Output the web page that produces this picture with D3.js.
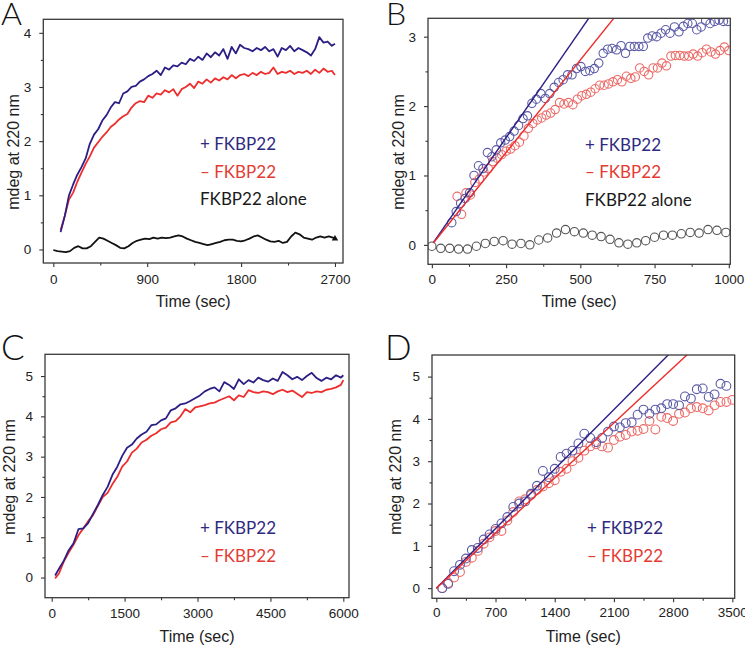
<!DOCTYPE html>
<html><head><meta charset="utf-8">
<script src="https://cdn.jsdelivr.net/npm/d3@7"></script>
<style>body{margin:0;background:#fff}svg{display:block}</style>
</head><body><svg id="c" width="745" height="647"></svg>
<script>
// ---------- DATA ----------
// Panel A (continuous traces)
const aTime = [70,110,150,190,230,270,310,350,390,430,470,510,550,590,630,670,710,750,790,830,870,910,950,990,1030,1070,1110,1150,1190,1230,1270,1310,1350,1390,1430,1470,1510,1550,1590,1630,1670,1710,1750,1790,1830,1870,1910,1950,1990,2030,2070,2110,2150,2190,2230,2270,2310,2350,2390,2430,2470,2510,2550,2590,2630,2670,2700];
const aPlus = [0.32,0.62,1.00,1.20,1.38,1.52,1.68,1.95,2.12,2.22,2.38,2.48,2.62,2.72,2.70,2.88,2.92,3.00,3.02,3.10,3.14,3.20,3.24,3.30,3.22,3.36,3.32,3.40,3.38,3.45,3.42,3.52,3.48,3.56,3.50,3.62,3.55,3.64,3.58,3.70,3.52,3.74,3.62,3.78,3.72,3.70,3.66,3.72,3.68,3.74,3.66,3.70,3.56,3.72,3.68,3.76,3.66,3.72,3.68,3.64,3.58,3.70,3.92,3.82,3.84,3.76,3.80];
const aMinus = [0.36,0.62,0.92,1.05,1.25,1.42,1.58,1.72,1.88,1.98,2.08,2.16,2.26,2.32,2.40,2.46,2.50,2.62,2.70,2.74,2.72,2.84,2.80,2.88,2.86,2.94,2.90,2.96,2.84,2.96,3.00,3.06,2.98,3.10,3.06,3.14,3.08,3.16,3.12,3.18,3.14,3.22,3.16,3.22,3.24,3.20,3.26,3.22,3.28,3.24,3.26,3.36,3.24,3.28,3.26,3.30,3.24,3.28,3.26,3.30,3.24,3.32,3.26,3.34,3.28,3.30,3.22];
const aAloneTime = [0,40,80,120,160,200,240,280,320,360,400,440,480,520,560,600,640,680,720,760,800,840,880,920,960,1000,1040,1080,1120,1160,1200,1240,1280,1320,1360,1400,1440,1480,1520,1560,1600,1640,1680,1720,1760,1800,1840,1880,1920,1960,2000,2040,2080,2120,2160,2200,2240,2280,2320,2360,2400,2440,2480,2520,2560,2600,2640,2680,2700];
const aAlone = [-0.01,-0.03,-0.04,-0.05,-0.03,0.03,0.06,0.02,0.02,0.06,0.14,0.22,0.20,0.16,0.12,0.08,0.03,0.02,0.06,0.12,0.16,0.18,0.20,0.19,0.22,0.20,0.22,0.21,0.22,0.24,0.26,0.24,0.20,0.17,0.14,0.12,0.10,0.08,0.10,0.12,0.14,0.17,0.18,0.18,0.16,0.15,0.17,0.20,0.24,0.26,0.22,0.18,0.15,0.14,0.16,0.12,0.14,0.24,0.31,0.28,0.22,0.20,0.18,0.22,0.24,0.22,0.24,0.22,0.20];

// Panel B (sampled points + initial-rate fits)
const bPlusTime = [67,82,97,112,127,142,157,172,187,202,217,232,247,262,277,292,307,322,337,352,367,382,397,412,427,442,457,472,487,502,517,532,547,562,577,592,607,622,637,652,667,682,697,712,727,742,757,772,787,802,817,832,847,862,877,892,907,922,937,952,967,982,997];
const bPlus = [0.32,0.48,0.60,0.67,0.75,1.00,1.14,1.10,1.33,1.27,1.37,1.47,1.51,1.56,1.64,1.72,1.82,1.86,2.04,2.10,2.18,2.11,2.18,2.27,2.34,2.38,2.45,2.45,2.54,2.57,2.50,2.51,2.54,2.62,2.76,2.82,2.83,2.81,2.87,2.76,2.86,2.86,2.86,2.86,2.98,3.01,3.00,3.05,3.10,3.05,3.14,3.07,3.15,3.19,3.19,3.10,3.14,3.23,3.19,3.22,3.24,3.22,3.22];
const bMinusTime = [85,100,115,130,145,160,175,190,205,220,235,250,265,280,295,310,325,340,355,370,385,400,415,430,445,460,475,490,505,520,535,550,565,580,595,610,625,640,655,670,685,700,715,730,745,760,775,790,805,820,835,850,865,880,895,910,925,940,955,970,985,1000];
const bMinus = [0.70,0.44,0.75,0.72,0.90,0.95,1.05,1.10,1.20,1.25,1.30,1.35,1.38,1.43,1.48,1.57,1.68,1.75,1.80,1.83,1.87,1.90,1.95,2.05,2.03,2.05,2.02,2.10,2.15,2.17,2.20,2.25,2.30,2.30,2.32,2.35,2.38,2.35,2.43,2.40,2.42,2.55,2.50,2.45,2.55,2.55,2.62,2.58,2.72,2.73,2.73,2.72,2.72,2.75,2.72,2.77,2.82,2.78,2.75,2.80,2.85,2.80];
const bAloneTime = [0,30,60,90,120,150,180,210,240,270,300,330,360,390,420,450,480,510,540,570,600,630,660,690,720,750,780,810,840,870,900,930,960,990];
const bAlone = [-0.02,-0.05,-0.05,-0.06,-0.06,-0.02,0.02,0.05,0.06,0.01,0.02,0.00,0.07,0.10,0.17,0.22,0.19,0.17,0.14,0.12,0.08,0.03,0.01,0.03,0.06,0.11,0.14,0.14,0.16,0.18,0.17,0.22,0.21,0.18];
const bSlopes = [0.00618, 0.00533]; // + FKBP22, - FKBP22 (mdeg per sec)

// Panel C (continuous traces)
const cTime = [70,150,250,350,450,550,650,750,850,950,1050,1150,1250,1350,1450,1550,1650,1750,1850,1950,2050,2150,2250,2350,2450,2550,2650,2750,2850,2950,3050,3150,3250,3350,3450,3550,3650,3750,3850,3950,4050,4150,4250,4350,4450,4550,4650,4750,4850,4950,5050,5150,5250,5350,5450,5550,5650,5750,5850,5950,6000];
const cPlus = [0.05,0.22,0.42,0.68,0.85,1.20,1.22,1.35,1.58,1.80,2.05,2.25,2.55,2.75,3.02,3.22,3.30,3.45,3.55,3.62,3.78,3.80,3.90,3.95,4.15,4.20,4.30,4.32,4.38,4.45,4.52,4.62,4.68,4.72,4.62,4.85,4.78,4.68,4.92,4.80,4.90,4.84,4.96,4.90,4.86,4.94,4.88,5.10,5.02,4.92,4.98,4.90,5.00,5.08,4.95,4.88,4.96,4.92,5.02,4.96,5.02];
const cMinus = [-0.02,0.10,0.40,0.62,0.82,1.05,1.22,1.40,1.55,1.78,2.00,2.10,2.32,2.50,2.75,2.88,3.10,3.20,3.35,3.42,3.52,3.58,3.68,3.72,3.85,3.88,4.00,4.18,4.10,4.22,4.25,4.28,4.32,4.34,4.40,4.45,4.50,4.40,4.52,4.48,4.65,4.60,4.58,4.62,4.60,4.55,4.62,4.66,4.60,4.64,4.56,4.48,4.60,4.58,4.62,4.60,4.66,4.68,4.72,4.78,4.90];

// Panel D (sampled points + initial-rate fits)
const dPlusTime = [70,140,210,280,350,420,490,560,630,700,770,840,910,980,1050,1120,1190,1260,1330,1400,1470,1540,1610,1680,1750,1820,1890,1960,2030,2100,2170,2240,2310,2380,2450,2520,2590,2660,2730,2800,2870,2940,3010,3080,3150,3220,3290,3360,3430];
const dPlus = [0.00,0.10,0.40,0.55,0.70,0.90,0.95,1.15,1.27,1.40,1.53,1.68,1.92,2.00,2.05,2.23,2.42,2.77,2.62,2.82,3.10,3.18,3.25,3.42,3.65,3.55,3.45,3.55,3.70,3.82,3.80,3.90,3.92,4.10,4.22,4.12,4.22,4.25,4.35,4.35,4.32,4.53,4.48,4.70,4.72,4.52,4.58,4.83,4.78];
const dMinusTime = [70,140,210,280,350,420,490,560,630,700,770,840,910,980,1050,1120,1190,1260,1330,1400,1470,1540,1610,1680,1750,1820,1890,1960,2030,2100,2170,2240,2310,2380,2450,2520,2590,2660,2730,2800,2870,2940,3010,3080,3150,3220,3290,3360,3430,3500];
const dMinus = [0.00,0.12,0.25,0.38,0.62,0.72,0.88,1.05,1.20,1.35,1.35,1.60,1.80,2.05,2.10,2.20,2.32,2.40,2.48,2.55,2.75,2.82,3.00,3.08,3.25,3.35,3.40,3.35,3.32,3.50,3.58,3.62,3.70,3.72,3.76,3.95,3.75,4.05,4.02,3.95,4.12,4.15,4.25,4.28,4.25,4.20,4.32,4.40,4.40,4.45];
const dSlopes = [0.00201, 0.00186];

// Tick labels
const aXTicks = [0,900,1800,2700], aYTicks = [0,1,2,3,4];
const bXTicks = [0,250,500,750,1000], bYTicks = [0,1,2,3];
const cXTicks = [0,1500,3000,4500,6000], cYTicks = [0,1,2,3,4,5];
const dXTicks = [0,700,1400,2100,2800,3500], dYTicks = [0,1,2,3,4,5];

const legendPlus = "+ FKBP22", legendMinus = "\u2013 FKBP22", legendAlone = "FKBP22 alone";

// ---------- STYLE ----------
const BLUE = "#2b1f86", RED = "#ee2d2d", BLACK = "#111";
const BLUE_PT = "#5b5aa6", RED_PT = "#ec6a66", GRAY_PT = "#555";
const BLUE_TXT = "#2f2a80", RED_TXT = "#e53b35";

const svg = d3.select("#c");
svg.append("rect").attr("width",745).attr("height",647).attr("fill","#fff");

function panel(p) {
  const x = d3.scaleLinear().domain(p.xd).range([p.left, p.right]);
  const y = d3.scaleLinear().domain(p.yd).range([p.bottom, p.top]);
  const g = svg.append("g");
  const clipId = "clip" + p.id;
  svg.append("clipPath").attr("id", clipId).append("rect")
    .attr("x", p.left).attr("y", p.top).attr("width", p.right - p.left).attr("height", p.bottom - p.top);

  const minorX = [], minorY = [];
  for (let i = 0; i < p.xt.length - 1; i++) minorX.push((p.xt[i] + p.xt[i+1]) / 2);
  for (let i = 0; i < p.yt.length - 1; i++) minorY.push((p.yt[i] + p.yt[i+1]) / 2);

  const styleAxis = s => {
    s.select(".domain").remove();
    s.selectAll("line").attr("stroke", "#333").attr("stroke-width", 1.1);
    s.selectAll("text").attr("font-family", "'Liberation Sans', Arial, sans-serif").attr("font-size", p.tickFont).attr("fill", "#222");
  };
  g.append("g").attr("transform", `translate(0,${p.bottom})`)
    .call(d3.axisBottom(x).tickValues(p.xt).tickSize(4).tickPadding(p.xpad).tickFormat(d3.format("d"))).call(styleAxis);
  g.append("g").attr("transform", `translate(0,${p.bottom})`)
    .call(d3.axisBottom(x).tickValues(minorX).tickSize(2.5).tickFormat("")).call(styleAxis);
  g.append("g").attr("transform", `translate(${p.left},0)`)
    .call(d3.axisLeft(y).tickValues(p.yt).tickSize(4).tickPadding(p.ypad).tickFormat(d3.format("d"))).call(styleAxis);
  g.append("g").attr("transform", `translate(${p.left},0)`)
    .call(d3.axisLeft(y).tickValues(minorY).tickSize(2.5).tickFormat("")).call(styleAxis);

  const plot = g.append("g").attr("clip-path", `url(#${clipId})`);
  const line = d3.line().x(d => x(d[0])).y(d => y(d[1]));
  (p.traces || []).forEach(s => {
    plot.append("path").datum(d3.zip(s.t, s.v)).attr("d", line)
      .attr("fill", "none").attr("stroke", s.color).attr("stroke-width", s.w || 1.8).attr("stroke-linejoin", "round");
  });
  (p.points || []).forEach(s => {
    plot.append("g").selectAll("circle").data(d3.zip(s.t, s.v)).join("circle")
      .attr("cx", d => x(d[0])).attr("cy", d => y(d[1])).attr("r", p.r)
      .attr("fill", "none").attr("stroke", s.color).attr("stroke-width", 1.1);
  });
  (p.fits || []).forEach(f => {
    const t0 = p.fitStart, t1 = p.xd[1];
    plot.append("path").datum([[t0, f.slope * t0], [t1, f.slope * t1]]).attr("d", line)
      .attr("fill", "none").attr("stroke", f.color).attr("stroke-width", 1.4);
  });
  if (p.marker) {
    plot.append("path").attr("d", d3.symbol(d3.symbolTriangle, 18)())
      .attr("transform", `translate(${x(p.marker[0])},${y(p.marker[1])})`).attr("fill", BLACK);
  }

  // frame
  g.append("rect").attr("x", p.left).attr("y", p.top).attr("width", p.right - p.left).attr("height", p.bottom - p.top)
    .attr("fill", "none").attr("stroke", "#3a3a3a").attr("stroke-width", 1.3);

  // axis titles
  g.append("text").attr("x", (p.left + p.right) / 2).attr("y", p.xTitleY).attr("text-anchor", "middle")
    .attr("font-family", "'Liberation Sans', Arial, sans-serif").attr("font-size", 16).attr("fill", "#222").text("Time (sec)");
  g.append("text").attr("transform", `translate(${p.yTitleX},${p.yTitleY}) rotate(-90)`).attr("text-anchor", "middle")
    .attr("dy", "0.35em").attr("font-family", "'Liberation Sans', Arial, sans-serif").attr("font-size", 16).attr("fill", "#222").text("mdeg at 220 nm");

  // legend
  p.legend.forEach((l, i) => {
    g.append("text").attr("x", p.legX).attr("y", p.legY[i]).attr("font-family", "Lato, 'Open Sans', sans-serif")
      .attr("font-size", 17).attr("fill", l[1]).text(l[0]);
  });

  // panel letter
  g.append("text").attr("x", p.letter[1]).attr("y", p.letter[2]).attr("font-family", "Lato, 'Liberation Sans', sans-serif")
    .attr("font-weight", 300).attr("font-size", p.letter[3]).attr("fill", "#111").text(p.letter[0]);
}

panel({id:"A", left:43.3, right:343, top:19.3, bottom:263, xd:[-96,2777], yd:[-0.25,4.25],
  xt:aXTicks, yt:aYTicks, xpad:7, ypad:8, tickFont:13.5, xTitleY:307, yTitleX:13, yTitleY:152,
  traces:[{t:aAloneTime, v:aAlone, color:BLACK}, {t:aTime, v:aMinus, color:RED}, {t:aTime, v:aPlus, color:BLUE}],
  marker:[2700, 0.2],
  legend:[[legendPlus, BLUE_TXT],[legendMinus, RED_TXT],[legendAlone, "#1a1a1a"]], legX:200, legY:[150,178,205],
  letter:["A", 1, 25, 32]});

panel({id:"B", left:428, right:730.3, top:18.3, bottom:264.3, xd:[-13,1005], yd:[-0.28,3.265],
  xt:bXTicks, yt:bYTicks, xpad:6, ypad:8, tickFont:13.5, xTitleY:307, yTitleX:398, yTitleY:152, r:4.2,
  points:[{t:bAloneTime, v:bAlone, color:GRAY_PT}, {t:bMinusTime, v:bMinus, color:RED_PT}, {t:bPlusTime, v:bPlus, color:BLUE_PT}],
  fits:[{slope:bSlopes[0], color:BLUE}, {slope:bSlopes[1], color:RED}], fitStart:5,
  legend:[[legendPlus, BLUE_TXT],[legendMinus, RED_TXT],[legendAlone, "#1a1a1a"]], legX:585, legY:[151,178,206],
  letter:["B", 386, 25, 32]});

panel({id:"C", left:45, right:349, top:354.3, bottom:597.7, xd:[-138,6117], yd:[-0.5,5.54],
  xt:cXTicks, yt:cYTicks, xpad:7, ypad:8, tickFont:13.5, xTitleY:642, yTitleX:9, yTitleY:477,
  traces:[{t:cTime, v:cMinus, color:RED}, {t:cTime, v:cPlus, color:BLUE}],
  legend:[[legendPlus, BLUE_TXT],[legendMinus, RED_TXT]], legX:200, legY:[534,562],
  letter:["C", 1, 360, 35]});

panel({id:"D", left:432, right:734.7, top:355, bottom:598.3, xd:[-51,3528], yd:[-0.24,5.51],
  xt:dXTicks, yt:dYTicks, xpad:5, ypad:8, tickFont:13.5, xTitleY:642, yTitleX:395, yTitleY:477, r:4.4,
  points:[{t:dMinusTime, v:dMinus, color:RED_PT}, {t:dPlusTime, v:dPlus, color:BLUE_PT}],
  fits:[{slope:dSlopes[0], color:BLUE}, {slope:dSlopes[1], color:RED}], fitStart:0,
  legend:[[legendPlus, BLUE_TXT],[legendMinus, RED_TXT]], legX:587, legY:[534,562],
  letter:["D", 385, 360, 35]});
</script></body></html>
